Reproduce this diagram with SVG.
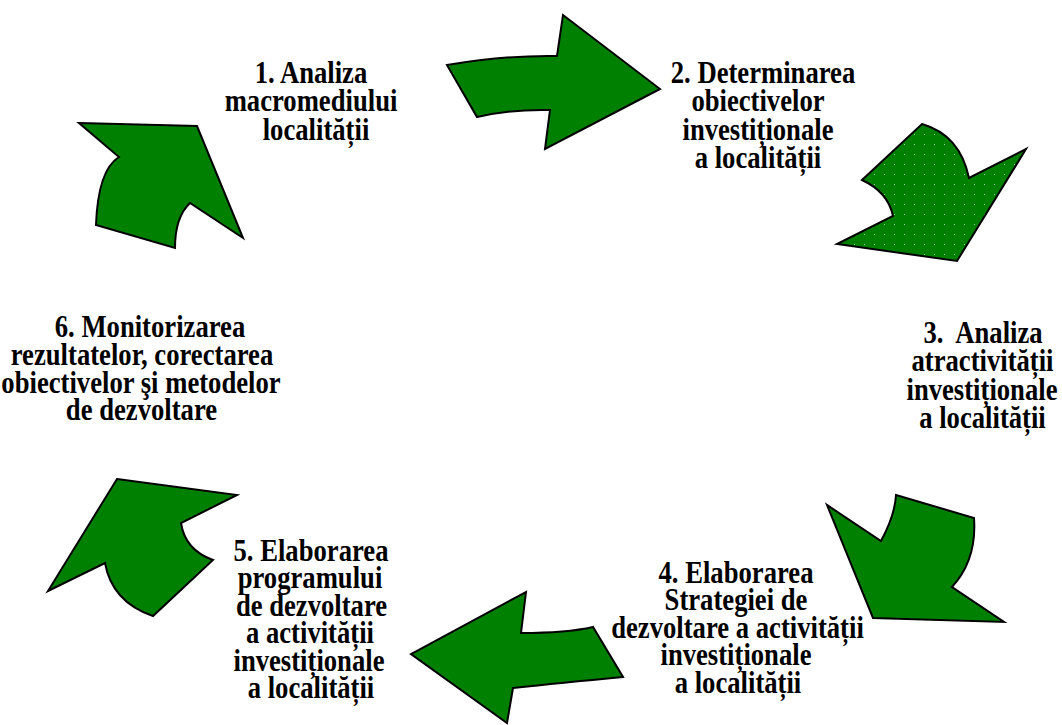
<svg xmlns="http://www.w3.org/2000/svg" width="1062" height="725" viewBox="0 0 1062 725">
<style>
.ar{fill:#008000;stroke:#000;stroke-width:2;stroke-linejoin:miter}
.dot{fill:url(#dots);stroke:#000;stroke-width:2}
text{font-family:"Liberation Serif","Times New Roman",serif;font-weight:bold;font-size:26.67px;fill:#000;text-anchor:middle;white-space:pre}
</style>
<defs>
<pattern id="dots" x="0" y="0" width="10" height="10" patternUnits="userSpaceOnUse">
<rect width="10" height="10" fill="#008000"/>
<rect x="4" y="4" width="1" height="1" fill="#9fd09f"/>
</pattern>
</defs>
<rect width="1062" height="725" fill="#fff"/>
<g id="connectors">
<path id="a1" class="ar" d="M447,65 Q507,55 557,56 L563,15 L660,89 L545,149 L550,110 Q513,109 477,117 Z"/>
<path id="a2" class="dot" d="M922,124 Q960,135 969,178 L1026,149 L957,261 L837,244 L893,216 Q888,192 862,180 Z"/>
<path id="a3" class="ar" d="M896,495 L974,518 Q977,560 952,587 L1004,622 L873,618 L827,505 L881,541 Q895,515 896,495 Z"/>
<path id="a4" class="ar" d="M526,592 L521,633 Q567,633 593,627 L623,677 Q560,683 513,688 L507,723 L411,654 Z"/>
<path id="a5" class="ar" d="M117,479 L237,495 L181,523 Q185,550 213,560 L153,616 Q112,602 105,563 L48,591 Z"/>
<path id="a6" class="ar" d="M79,123 L197,126 L243,238 L190,203 Q175,217 175,248 L96,225 Q98,170 119,157 Z"/>
</g>
<g id="n1">
<text x="311" y="83" transform="matrix(1,0,0,1.15,0,-12.45)">1. Analiza</text>
<text x="311" y="111.5" transform="matrix(1,0,0,1.15,0,-16.725)">macromediului</text>
<text x="316" y="140" transform="matrix(1,0,0,1.15,0,-21)">localității</text>
</g>
<g id="n2">
<text x="763" y="83" transform="matrix(1,0,0,1.15,0,-12.45)">2. Determinarea</text>
<text x="758" y="111.5" transform="matrix(1,0,0,1.15,0,-16.725)">obiectivelor</text>
<text x="758" y="140" transform="matrix(1,0,0,1.15,0,-21)">investiționale</text>
<text x="758" y="168" transform="matrix(1,0,0,1.15,0,-25.2)">a localității</text>
</g>
<g id="n3">
<text x="983" y="343" transform="matrix(1,0,0,1.15,0,-51.45)">3.  Analiza</text>
<text x="982.5" y="371.5" transform="matrix(1,0,0,1.15,0,-55.725)">atractivității</text>
<text x="982" y="400" transform="matrix(1,0,0,1.15,0,-60)">investiționale</text>
<text x="982.5" y="428" transform="matrix(1,0,0,1.15,0,-64.2)">a localității</text>
</g>
<g id="n4">
<text x="736" y="583" transform="matrix(1,0,0,1.15,0,-87.45)">4. Elaborarea</text>
<text x="736" y="610.5" transform="matrix(1,0,0,1.15,0,-91.575)">Strategiei de</text>
<text x="737.5" y="638" transform="matrix(1,0,0,1.15,0,-95.7)">dezvoltare a activității</text>
<text x="736" y="665.5" transform="matrix(1,0,0,1.15,0,-99.825)">investiționale</text>
<text x="738" y="693" transform="matrix(1,0,0,1.15,0,-103.95)">a localității</text>
</g>
<g id="n5">
<text x="311" y="561" transform="matrix(1,0,0,1.15,0,-84.15)">5. Elaborarea</text>
<text x="310" y="588.5" transform="matrix(1,0,0,1.15,0,-88.275)">programului</text>
<text x="311.5" y="616" transform="matrix(1,0,0,1.15,0,-92.4)">de dezvoltare</text>
<text x="310" y="643.5" transform="matrix(1,0,0,1.15,0,-96.525)">a activității</text>
<text x="309" y="671" transform="matrix(1,0,0,1.15,0,-100.65)">investiționale</text>
<text x="311" y="698.5" transform="matrix(1,0,0,1.15,0,-104.775)">a localității</text>
</g>
<g id="n6">
<text x="150" y="337" transform="matrix(1,0,0,1.15,0,-50.55)">6. Monitorizarea</text>
<text x="142" y="365" transform="matrix(1,0,0,1.15,0,-54.75)">rezultatelor, corectarea</text>
<text x="141" y="393" transform="matrix(1,0,0,1.15,0,-58.95)">obiectivelor şi metodelor</text>
<text x="141.5" y="420" transform="matrix(1,0,0,1.15,0,-63)">de dezvoltare</text>
</g>
</svg>
